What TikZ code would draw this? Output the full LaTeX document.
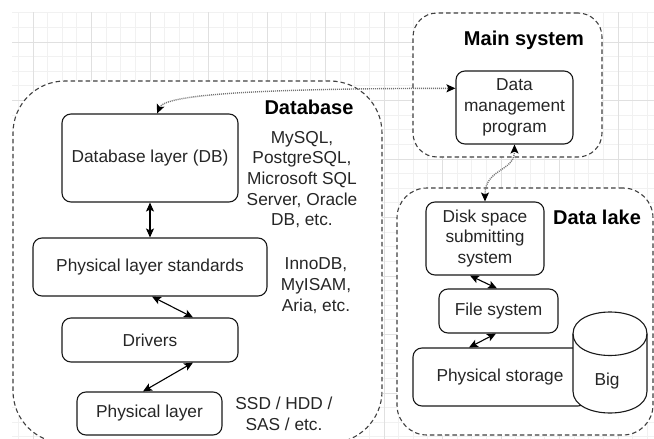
\documentclass[tikz,border=0pt]{standalone}
\usepackage{fontspec}
\setmainfont{Liberation Sans}
\usetikzlibrary{arrows.meta}

\definecolor{gridminor}{HTML}{F1F1F1}
\definecolor{gridmajor}{HTML}{E0E0E0}
\newcommand{\diagfont}{\fontsize{17.3}{20.7}\selectfont}
\newcommand{\headfont}{\fontsize{20}{24}\selectfont\bfseries}

\begin{document}
\begin{tikzpicture}[x=1pt,y=-1pt,
  box/.style={draw=black!90, line width=1.1pt, rounded corners=9pt, fill=white,
    align=center, font=\diagfont, text=black!85, inner sep=2pt},
  container/.style={draw=black!75, line width=1.1pt, dash pattern=on 4.5pt off 3pt,
    fill=white, inner sep=0pt},
  note/.style={align=center, font=\diagfont, text=black!85, inner sep=0pt},
  heading/.style={anchor=base, font=\headfont, text=black, inner sep=0pt},
  biarrow/.style={{Stealth[length=9pt,width=8pt,inset=2pt]}-{Stealth[length=9pt,width=8pt,inset=2pt]},
    line width=1.1pt, draw=black},
  dotlink/.style={{Stealth[length=9pt,width=8pt,inset=2pt,color=black]}-{Stealth[length=9pt,width=8pt,inset=2pt,color=black]},
    line width=1.4pt, draw=black!55, dash pattern=on 1pt off 1pt},
  cylbody/.style={draw=black!90, line width=1.1pt, fill=white}
]
\useasboundingbox (0,0) rectangle (654,439);
\fill[white] (0,0) rectangle (654,439);
\begin{scope}
\clip (0,0) rectangle (654,439);

% background grid
\foreach \k in {0,...,43}
  \draw[gridminor, line width=0.8pt] ({18.375+14.625*\k},12) -- ({18.375+14.625*\k},439);
\foreach \k in {0,...,29}
  \draw[gridminor, line width=0.8pt] (12,{12.75+14.625*\k}) -- (654,{12.75+14.625*\k});
\foreach \k in {0,...,10}
  \draw[gridmajor, line width=0.8pt] ({33+58.5*\k},12) -- ({33+58.5*\k},439);
\foreach \k in {0,...,6}
  \draw[gridmajor, line width=0.8pt] (12,{42+58.5*\k}) -- (654,{42+58.5*\k});

% containers
\node[container, rounded corners=52pt, minimum width=369pt, minimum height=362pt] (dbcont) at (197.5,262) {};
\node[container, rounded corners=24pt, minimum width=189pt, minimum height=144pt] (maincont) at (507.5,85) {};
\node[container, rounded corners=30pt, minimum width=256pt, minimum height=247pt] (lakecont) at (525,311.5) {};

% database stack
\node[box, minimum width=176pt, minimum height=88pt] (dbl) at (150,158) {Database layer (DB)};
\node[box, minimum width=234pt, minimum height=58pt] (pls) at (150,267) {Physical layer standards};
\node[box, minimum width=176pt, minimum height=44pt] (drv) at (150,340) {Drivers};
\node[box, minimum width=145pt, minimum height=43pt] (phl) at (149.5,413.5) {Physical layer};

% main system
\node[box, minimum width=117pt, minimum height=73pt] (dmp) at (514.5,107.5) {Data\\management\\program};

% data lake
\node[box, minimum width=118pt, minimum height=73pt] (dss) at (485,238.5) {Disk space\\submitting\\system};
\node[box, minimum width=119pt, minimum height=44pt] (fs) at (498.5,311) {File system};
\node[box, minimum width=174pt, minimum height=58pt] (ps) at (500,377) {Physical storage};

% storage cylinder
\filldraw[cylbody] (573,333.75) .. controls (573,304.75) and (647,304.75) .. (647,333.75)
  -- (647,391.25) .. controls (647,420.25) and (573,420.25) .. (573,391.25) -- cycle;
\draw[cylbody, fill=none] (573,333.75) .. controls (573,362.75) and (647,362.75) .. (647,333.75);
\node[note] (big) at (607,381) {Big};

% side notes
\node[note] (dbnote) at (302,179.5) {MySQL,\\PostgreSQL,\\Microsoft SQL\\Server, Oracle\\DB, etc.};
\node[note] (stdnote) at (316,285.5) {InnoDB,\\MyISAM,\\Aria, etc.};
\node[note] (phnote) at (284,413.5) {SSD / HDD /\\SAS / etc.};

% headings
\node[heading] (dbhead) at (309,114.2) {Database};
\node[heading] (mainhead) at (524,45.2) {Main system};
\node[heading] (lakehead) at (597,224.2) {Data lake};

% solid links
\draw[biarrow] (dbl.south) -- (pls.north);
\draw[biarrow] ([xshift=2pt]pls.south) -- ([xshift=43pt]drv.north);
\draw[biarrow] ([xshift=43pt]drv.south) -- ([xshift=-6.5pt]phl.north);
\draw[biarrow] ([xshift=-15pt]dss.south) -- ([xshift=-1.5pt]fs.north);
\draw[biarrow] ([xshift=-2.5pt]fs.south) -- ([xshift=-31pt]ps.north);

% dotted links
\draw[dotlink] (dbl.81) .. controls (165,95) and (250,88.5) .. (dmp.162);
\draw[dotlink] (dmp.south) .. controls (514.5,172) and (485,168) .. (dss.north);
\end{scope}
\end{tikzpicture}
\end{document}
